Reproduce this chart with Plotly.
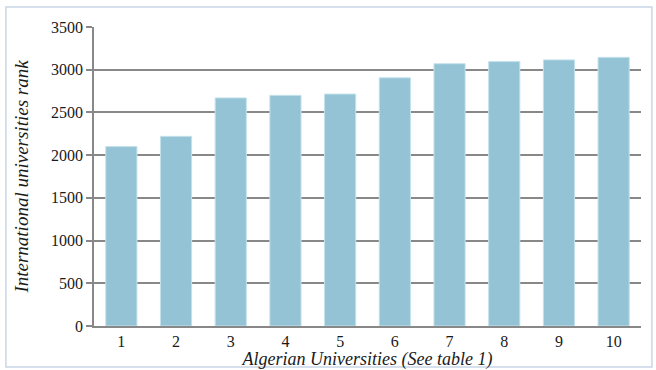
import plotly.graph_objects as go

categories = ["1", "2", "3", "4", "5", "6", "7", "8", "9", "10"]
ranks = [2100, 2220, 2670, 2700, 2715, 2905, 3070, 3095, 3115, 3145]
y_ticks = [0, 500, 1000, 1500, 2000, 2500, 3000, 3500]

fig = go.Figure()
fig.add_trace(go.Bar(
    x=categories, y=ranks,
    marker=dict(color="#93c3d4", line=dict(color="#c4e2ec", width=1)),
    width=0.57,
))

font = "Liberation Serif, Times New Roman, serif"
fig.update_layout(
    template="none",
    width=656, height=370,
    margin=dict(l=94, r=15, t=27, b=44, autoexpand=False),
    paper_bgcolor="white", plot_bgcolor="white",
    showlegend=False,
    font=dict(family=font, size=16, color="#1a1a1a"),
    xaxis=dict(
        type="category", automargin=False,
        showgrid=False,
        showline=True, linecolor="#888888", linewidth=1.5,
        ticks="", tickfont=dict(size=16),
        title=dict(text="<i>Algerian Universities (See table 1)</i>", font=dict(size=18), standoff=0),
    ),
    yaxis=dict(
        range=[0, 3500], tickvals=y_ticks, automargin=False,
        showgrid=True, gridcolor="#888888", gridwidth=1.5,
        showline=True, linecolor="#888888", linewidth=1.5,
        ticks="outside", ticklen=6, tickcolor="#888888", tickwidth=1.5,
        tickfont=dict(size=16),
        zeroline=False,
        title=dict(text="<i>International universities rank</i>", font=dict(size=19), standoff=17),
    ),
    shapes=[dict(type="rect", xref="paper", yref="paper",
                 x0=-0.161, x1=1.020, y0=-0.137, y1=1.067,
                 line=dict(color="#c9d5e6", width=1.5), fillcolor="rgba(0,0,0,0)", layer="below")],
)

fig.write_html("out.html", config={"displayModeBar": False},
               post_script="document.body.style.margin='0';document.body.style.overflow='hidden';")
